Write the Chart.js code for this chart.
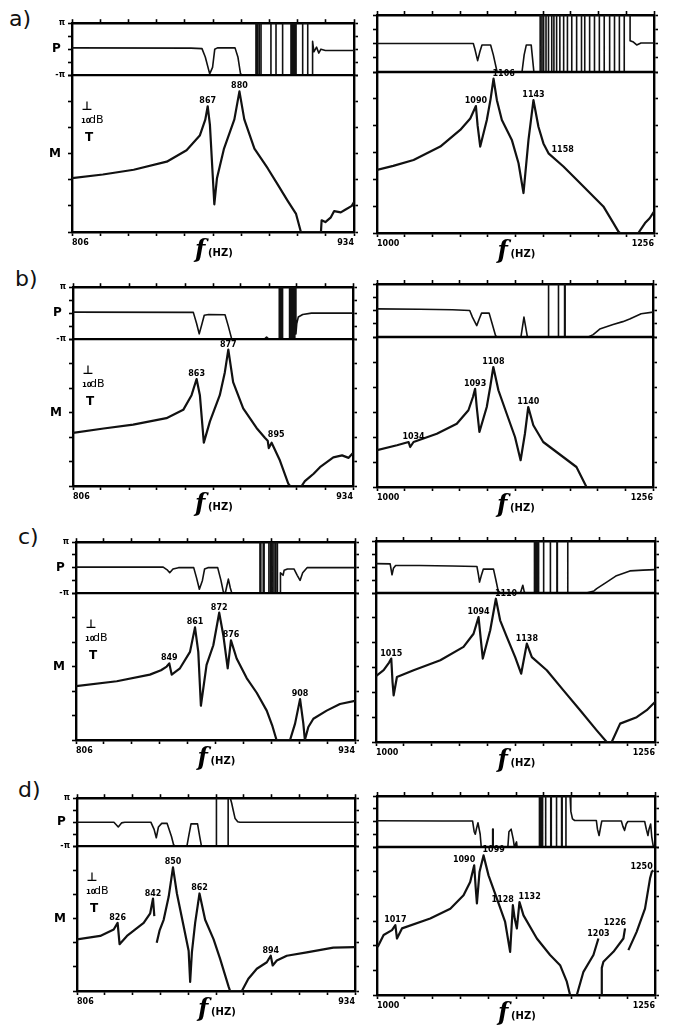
<!DOCTYPE html>
<html>
<head>
<meta charset="utf-8">
<script src="https://cdn.jsdelivr.net/npm/chart.js@4.4.1/dist/chart.umd.min.js"></script>
<style>
  body { margin: 0; background: #fff; }
  #page { position: relative; width: 674px; height: 1027px; overflow: hidden; }
  #page canvas { position: absolute; }
  .tag { position: absolute; font: 22px/1 "DejaVu Sans", sans-serif; color: #111; }
</style>
</head>
<body>
<div id="page">
  <div class="tag" style="left:9px;top:8px">a)</div>
  <div class="tag" style="left:15px;top:268px">b)</div>
  <div class="tag" style="left:18px;top:526px">c)</div>
  <div class="tag" style="left:18px;top:779px">d)</div>
</div>
<script>
var leftRange = [806, 934];
var rightRange = [1000, 1256];

// M: magnitude in 10 dB divisions (0 = bottom edge, 6 = top), P: phase in units of pi
var aLeftM = [[806,2.06],[820,2.2],[834,2.38],[849,2.69],[858,3.13],[864,3.69],[866.5,4.3],[867.6,4.81],[868.6,4.1],[870.6,1.06],[871.8,2.06],[875,3.19],[879.7,4.31],[882,5.38],[884.2,4.31],[888.8,3.19],[894.8,2.44],[899.4,1.81],[903.9,1.19],[907.7,0.69],[909.9,0],[919,0],[919.3,0.45],[921,0.38],[923.5,0.56],[925,0.8],[928,0.75],[930,0.85],[933,1.0],[934,1.15]];
var aLeftP = [[806,0.05],[860,0.04],[865,0.02],[866.5,-0.3],[868.5,-0.95],[869.8,-0.7],[870.8,0],[872,0.05],[880,0.05],[881.3,-0.3],[882.5,-0.95],[883.5,-1],[889.5,-1],[889.5,1],[890.2,1],[890.2,-1],[891,-1],[891,1],[891.8,1],[891.8,-1],[896.3,-1],[896.3,1],[898.6,1],[898.6,-1],[901.6,-1],[901.6,1],[905.4,1],[905.4,-1],[906,-1],[906,1],[906.6,1],[906.6,-1],[907.2,-1],[907.2,1],[907.7,1],[907.7,-1],[910.7,-1],[910.7,1],[913,1],[913,-1],[915.2,-1],[915.2,0.3],[915.8,-0.1],[917,0.08],[918,-0.15],[919,0],[921,-0.05],[934,-0.05]];
var aLeftPeaks = [867, 880];
var aLeftSide = [];
var aLeftAlign = {};

var aRightM = [[1000,2.35],[1015,2.5],[1033.8,2.72],[1058.5,3.22],[1076.9,3.84],[1086.2,4.27],[1091.4,4.73],[1093,4.0],[1095.4,3.22],[1101.5,4.21],[1105,5],[1107.7,5.75],[1110.8,4.95],[1115.4,4.21],[1124.6,3.47],[1130.8,2.6],[1135.4,1.49],[1140,3.47],[1144.6,4.95],[1149.2,3.96],[1153.8,3.34],[1158.5,2.97],[1172.3,2.48],[1190.8,1.73],[1209.2,0.99],[1218.5,0.37],[1223,0.06],[1224.6,0],[1241.5,0],[1247.7,0.37],[1252,0.55],[1256,0.8]];
var aRightP = [[1000,0],[1089,0],[1090.5,-0.2],[1093,-0.6],[1095,-0.3],[1097,-0.05],[1105,-0.05],[1107.5,-0.4],[1111,-1],[1134,-1],[1136,-0.4],[1138,-0.05],[1142.5,-0.05],[1145,-1],[1150.8,-1],[1150.8,1],[1152.4,1],[1152.4,-1],[1154,-1],[1154,1],[1156.2,1],[1156.2,-1],[1158.5,-1],[1158.5,1],[1161.5,1],[1161.5,-1],[1163.5,-1],[1163.5,1],[1166,1],[1166,-1],[1169,-1],[1169,1],[1172.5,1],[1172.5,-1],[1176,-1],[1176,1],[1180,1],[1180,-1],[1184.5,-1],[1184.5,1],[1189,1],[1189,-1],[1192,-1],[1192,1],[1196.5,1],[1196.5,-1],[1201,-1],[1201,1],[1205.5,1],[1205.5,-1],[1210,-1],[1210,1],[1215,1],[1215,-1],[1219.5,-1],[1219.5,1],[1224,1],[1224,-1],[1228.5,-1],[1228.5,1],[1233.9,1],[1233.9,0.1],[1237,0.05],[1240,-0.05],[1244,0.02],[1256,0.02]];
var aRightPeaks = [1090, 1106, 1143];
var aRightSide = [1158];
var aRightAlign = { 1106: 'left' };

var bLeftM = [[806,2.17],[820,2.35],[833.5,2.51],[848.7,2.77],[856.4,3.11],[860.2,3.71],[862.5,4.37],[864,3.71],[865.8,1.77],[868.6,2.64],[873.1,3.71],[875.4,4.64],[877,5.57],[879.2,4.24],[883.8,3.17],[889.9,2.37],[893.7,1.97],[895,1.85],[895.5,1.55],[896.8,1.77],[900.6,1.04],[904.4,0.1],[905.2,0],[910.5,0],[912,0.2],[914.3,0.37],[916,0.5],[918.9,0.77],[925,1.17],[929,1.25],[932,1.15],[934,1.35]];
var bLeftP = [[806,0.04],[861,0.03],[862.5,-0.4],[863.7,-0.8],[865,-0.4],[866,-0.08],[868,-0.05],[875.5,-0.06],[877,-0.5],[878.5,-0.98],[879.5,-1],[893.5,-1],[894.5,-0.92],[895.5,-1],[900.3,-1],[900.3,1],[900.8,1],[900.8,-1],[901.3,-1],[901.3,1],[901.8,1],[901.8,-1],[905,-1],[905,1],[905.6,1],[905.6,-1],[906.2,-1],[906.2,1],[906.8,1],[906.8,-1],[907.4,-1],[907.4,1],[907.9,1],[907.9,-0.8],[908.3,-0.4],[909,-0.15],[911,-0.05],[915,0],[934,0]];
var bLeftPeaks = [863, 877];
var bLeftSide = [895];
var bLeftAlign = {};

var bRightM = [[1000,1.47],[1018.5,1.67],[1029.3,1.8],[1030.8,1.6],[1033.9,1.8],[1055.5,2.13],[1074,2.53],[1084.8,3.07],[1089,3.6],[1091,3.93],[1092.5,3.2],[1095,2.2],[1101.8,3.2],[1105,4],[1107.9,4.8],[1112.6,3.87],[1120.3,2.93],[1128,2],[1133.2,1.07],[1137.2,2.13],[1140.3,3.2],[1145,2.47],[1154.2,1.8],[1172.7,1.2],[1185,0.8],[1194.3,0],[1256,0]];
var bRightP = [[1000,0.06],[1040,0.05],[1070,0.03],[1086,0],[1088.5,-0.25],[1092.5,-0.57],[1095,-0.3],[1097,-0.1],[1104,-0.1],[1106.5,-0.45],[1110,-0.95],[1111.5,-1],[1133.5,-1],[1135,-0.6],[1136.3,-0.25],[1137.8,-0.6],[1139.5,-1],[1158.8,-1],[1158.8,1],[1159.3,1],[1159.3,-1],[1168,-1],[1168,1],[1168.5,1],[1168.5,-1],[1174,-1],[1174,1],[1174.5,1],[1174.5,-1],[1196,-1],[1200.5,-0.91],[1206.6,-0.7],[1219,-0.53],[1228,-0.42],[1234.4,-0.32],[1245,-0.12],[1256,-0.06]];
var bRightPeaks = [1034, 1093, 1108, 1140];
var bRightSide = [];
var bRightAlign = {};

var cLeftM = [[806,2.2],[824.7,2.4],[839.9,2.67],[845,2.85],[847.6,3],[848.8,3.13],[849.9,2.67],[853.7,2.93],[858.3,3.6],[860.6,4.6],[862.1,3.6],[863.3,1.4],[865.9,3.07],[869,3.87],[871.7,5.2],[873.6,4.27],[875.6,2.93],[877.1,4.07],[879.7,3.33],[884.3,2.53],[888.9,1.93],[893.5,1.2],[896,0.6],[898,0],[904.2,0],[906.5,0.67],[908.8,1.67],[910.3,0.67],[911,0],[912.6,0.53],[914.9,0.87],[921,1.2],[927.1,1.47],[934,1.6]];
var cLeftP = [[806,0.02],[846,0.02],[848,-0.1],[849,-0.2],[850.5,-0.05],[853,0],[860,0],[861.3,-0.4],[862.6,-0.85],[864,-0.5],[865,-0.05],[866.5,0],[871,0],[872.5,-0.5],[873.6,-0.95],[874.5,-1],[875,-0.8],[875.9,-0.45],[876.8,-0.8],[877.5,-1],[890.4,-1],[890.4,1],[890.8,1],[890.8,-1],[891.9,-1],[891.9,1],[892.3,1],[892.3,-1],[894.5,-1],[894.5,1],[895.3,1],[895.3,-1],[896,-1],[896,1],[896.8,1],[896.8,-1],[897.6,-1],[897.6,1],[898.4,1],[898.4,-1],[899.6,-1],[899.8,-0.2],[901,-0.3],[901.5,-0.1],[903,-0.05],[906,-0.05],[907.5,-0.3],[908.8,-0.5],[910,-0.2],[912,0],[934,0]];
var cLeftPeaks = [849, 861, 872, 876, 908];
var cLeftSide = [];
var cLeftAlign = {};

var cRightM = [[1000,2.65],[1007,2.89],[1012,3.2],[1014,3.36],[1015.2,2.4],[1016.2,1.88],[1019.2,2.62],[1034.5,2.89],[1059,3.29],[1080.3,3.83],[1089.5,4.36],[1094.1,5.03],[1096,4.2],[1098,3.36],[1104.8,4.5],[1110,5.77],[1113.9,4.9],[1120,4.23],[1127.7,3.42],[1133.2,2.75],[1138.4,3.96],[1143,3.42],[1156.7,2.89],[1172,2.08],[1187.3,1.28],[1202.5,0.47],[1211.7,0],[1216.3,0],[1224,0.74],[1239.2,1.0],[1248.4,1.28],[1256,1.61]];
var cRightP = [[1000,0.13],[1013,0.12],[1014.7,-0.3],[1016,-0.05],[1018,0.06],[1040,0.06],[1070,0.04],[1092.6,0.02],[1094,-0.3],[1095,-0.58],[1096.5,-0.35],[1098.5,-0.08],[1107.8,-0.08],[1110,-0.5],[1112,-0.9],[1114,-1],[1132.5,-1],[1134.7,-0.7],[1136,-0.95],[1137,-1],[1145,-1],[1145,1],[1145.6,1],[1145.6,-1],[1146.5,-1],[1146.5,1],[1147.3,1],[1147.3,-1],[1148.5,-1],[1148.5,1],[1149.2,1],[1149.2,-1],[1153.5,-1],[1153.5,1],[1154,1],[1154,-1],[1159.7,-1],[1159.7,1],[1160.2,1],[1160.2,-1],[1166,-1],[1166,1],[1166.4,1],[1166.4,-1],[1175.7,-1],[1175.7,1],[1176.1,1],[1176.1,-1],[1193,-1],[1200,-0.92],[1202.5,-0.83],[1211.7,-0.58],[1220,-0.35],[1233,-0.15],[1245,-0.12],[1256,-0.1]];
var cRightPeaks = [1015, 1094, 1110, 1138];
var cRightSide = [];
var cRightAlign = { 1110: 'left' };

var dLeftM = [[806,2.14],[816.7,2.28],[822.9,2.55],[824.7,2.82],[825.6,1.94],[829,2.28],[836.7,2.82],[839.7,3.22],[841,3.83],[841.6,3.1],[842,null],[842.7,2.0],[844,2.5],[845.9,2.95],[848.2,3.9],[850.2,5.12],[852,4.04],[855.1,2.68],[857.4,1.67],[858.1,0.38],[858.9,1.6],[860.4,2.82],[862.4,4.04],[865,2.95],[868.9,2.14],[871.9,1.33],[875.8,0.18],[876.5,0],[881.9,0],[884.9,0.51],[888.8,0.92],[893.4,1.19],[895.2,1.46],[896.1,1.06],[898,1.26],[902.6,1.46],[911.8,1.6],[924,1.8],[934,1.82]];
var dLeftP = [[806,0],[823,0],[825,-0.2],[826.5,-0.03],[828,0],[840,0],[841.5,-0.3],[842.5,-0.65],[843.5,-0.2],[845,-0.05],[847.5,-0.05],[849.5,-0.6],[850.5,-0.95],[851.5,-1],[856.6,-1],[857.6,-0.5],[858.5,-0.07],[861.5,-0.07],[862.5,-0.6],[863.3,-1],[870,-1],[870,1],[870.3,1],[870.3,-1],[875.6,-1],[875.6,1],[876.6,1],[877.2,0.8],[877.8,0.55],[878.8,0.15],[880,0.02],[881,0],[934,0]];
var dLeftPeaks = [826, 842, 850, 862, 894];
var dLeftSide = [];
var dLeftAlign = {};

var dRightM = [[1000.6,1.95],[1006.1,2.43],[1013.8,2.63],[1016.9,2.83],[1018.4,2.29],[1023,2.7],[1049,3.1],[1067.5,3.5],[1079.7,4.04],[1085.8,4.58],[1089.5,5.26],[1090.8,4.4],[1092,3.71],[1094.4,4.99],[1098.1,5.66],[1102.7,4.85],[1110.4,3.91],[1118,2.96],[1122.6,1.75],[1125.1,3.64],[1126.8,3.1],[1128.8,2.7],[1131.2,3.77],[1134.9,3.23],[1147.2,2.29],[1159.4,1.62],[1168.6,1.21],[1174.8,0.54],[1177.8,0],[1184,0],[1190.1,0.94],[1199.3,1.62],[1203.9,2.29],[1205,null],[1207,0],[1207,1.1],[1208.5,1.35],[1217.7,1.75],[1226.9,2.29],[1228.4,2.7],[1229,null],[1231.5,1.82],[1239.1,2.56],[1246.8,3.5],[1251.4,4.72],[1253,4.99],[1254.5,5.05]];
var dRightP = [[1000,0.03],[1060,0.02],[1088,0.02],[1089.5,-0.4],[1090.5,-0.5],[1091.5,-0.3],[1093,-0.05],[1095,-0.5],[1096,-1],[1106.5,-1],[1106.5,-0.3],[1107,-0.3],[1107,-1],[1120.5,-1],[1121.5,-0.4],[1123.5,-0.3],[1125.5,-0.7],[1126.5,-1],[1128.5,-0.8],[1129,-1],[1149.6,-1],[1149.6,1],[1150.5,1],[1150.5,-1],[1151.5,-1],[1151.5,1],[1152.5,1],[1152.5,-1],[1155,-1],[1155,1],[1155.5,1],[1155.5,-1],[1160,-1],[1160,1],[1160.5,1],[1160.5,-1],[1165,-1],[1165,1],[1165.5,1],[1165.5,-1],[1170,-1],[1170,1],[1170.5,1],[1170.5,-1],[1174,-1],[1174,1],[1177.8,1],[1178.5,0.4],[1180,0.1],[1182,0.04],[1202,0.04],[1203,-0.3],[1204.5,-0.55],[1206,-0.2],[1207,0.02],[1225,0.02],[1226.5,-0.2],[1228,-0.35],[1229.5,-0.1],[1231,0],[1246.5,0],[1248,-0.3],[1249.5,-0.55],[1250.5,-0.3],[1252,-0.1],[1253,-0.6],[1254.5,-1],[1256,-1]];
var dRightPeaks = [1017, 1090, 1099, 1128, 1132, 1203, 1226, 1250];
var dRightSide = [];
var dRightAlign = { 1090: 'right', 1099: 'left', 1128: 'right', 1132: 'left', 1226: 'right', 1250: 'right' };

// page boxes: [left, right, top, P/M divider, bottom] of each plot frame
var panels = [
  { m: aLeftM, p: aLeftP, peaks: aLeftPeaks, side: aLeftSide, align: aLeftAlign, range: leftRange, box: [72, 354, 19, 72, 232], labels: true },
  { m: aRightM, p: aRightP, peaks: aRightPeaks, side: aRightSide, align: aRightAlign, range: rightRange, box: [377, 654, 15, 72, 233], labels: false },
  { m: bLeftM, p: bLeftP, peaks: bLeftPeaks, side: bLeftSide, align: bLeftAlign, range: leftRange, box: [73, 353, 283, 336, 486], labels: true },
  { m: bRightM, p: bRightP, peaks: bRightPeaks, side: bRightSide, align: bRightAlign, range: rightRange, box: [377, 653, 284, 337, 487], labels: false },
  { m: cLeftM, p: cLeftP, peaks: cLeftPeaks, side: cLeftSide, align: cLeftAlign, range: leftRange, box: [76, 355, 538, 590, 740], labels: true },
  { m: cRightM, p: cRightP, peaks: cRightPeaks, side: cRightSide, align: cRightAlign, range: rightRange, box: [376, 655, 541, 593, 742], labels: false },
  { m: dLeftM, p: dLeftP, peaks: dLeftPeaks, side: dLeftSide, align: dLeftAlign, range: leftRange, box: [77, 355, 794, 843, 991], labels: true },
  { m: dRightM, p: dRightP, peaks: dRightPeaks, side: dRightSide, align: dRightAlign, range: rightRange, box: [377, 655, 796, 847, 995], labels: false }
];

Chart.defaults.font.family = '"DejaVu Sans", sans-serif';
Chart.defaults.color = '#000';

var TOP = 6, BOT = 36, RIGHT = 6;
var grid = { drawOnChartArea: false, tickLength: 4, color: '#000', tickWidth: 1.6 };
var border = { color: '#000', width: 2.4 };

function toXY(list) {
  return list.map(function (d) { return { x: d[0], y: d[1] }; });
}

function peakOf(list, f, win) {
  var best = null;
  list.forEach(function (d) {
    if (d[1] !== null && Math.abs(d[0] - f) <= win && (!best || d[1] > best[1])) best = d;
  });
  return best;
}

function tenTicks(range) {
  return function (s) {
    var t = [];
    for (var i = 0; i <= 10; i++) t.push({ value: range[0] + i * (range[1] - range[0]) / 10 });
    s.ticks = t;
  };
}
function phaseTicks(s) {
  s.ticks = [-1, -0.5, 0, 0.5, 1].map(function (v) { return { value: v }; });
}
function setW(w) { return function (s) { s.width = w; }; }
function setH(h) { return function (s) { s.height = h; }; }

function textPlugin(pn, win) {
  return {
    id: 'panelText',
    afterDraw: function (chart) {
      var ctx = chart.ctx, a = chart.chartArea, sx = chart.scales.x, sy = chart.scales.yM;
      ctx.save();
      // P / M divider line
      ctx.strokeStyle = '#000';
      ctx.lineWidth = 2.4;
      ctx.beginPath();
      ctx.moveTo(a.left - 1, sy.top);
      ctx.lineTo(a.right + 1, sy.top);
      ctx.stroke();

      ctx.fillStyle = '#000';
      ctx.font = 'bold 8px "DejaVu Sans"';
      pn.peaks.forEach(function (f) {
        var p = peakOf(pn.m, f, win);
        if (!p) return;
        var txt = String(f), w = ctx.measureText(txt).width;
        var px = sx.getPixelForValue(p[0]), py = sy.getPixelForValue(p[1]) - 3;
        var al = pn.align[f];
        var lx = al === 'left' ? px - 1 : al === 'right' ? px - w + 1 : px - w / 2;
        lx = Math.max(a.left + 1, Math.min(a.right - w - 1, lx));
        ctx.textAlign = 'left';
        ctx.fillText(txt, lx, py);
      });
      ctx.textAlign = 'left';
      pn.side.forEach(function (f) {
        var p = peakOf(pn.m, f, win);
        if (p) ctx.fillText(String(f), sx.getPixelForValue(p[0]) + 3, sy.getPixelForValue(p[1]) - 1);
      });

      if (pn.labels) {
        var ty = sy.top;
        ctx.textAlign = 'center';
        ctx.font = 'bold 12px "DejaVu Sans"';
        ctx.fillText('⊥', a.left + 15, ty + 35);
        ctx.fillText('T', a.left + 17, ty + 66);
        ctx.textAlign = 'left';
        ctx.font = 'bold 7px "DejaVu Sans"';
        ctx.fillText('10', a.left + 9, ty + 48);
        ctx.font = '11px "DejaVu Sans"';
        ctx.fillText('dB', a.left + 17, ty + 48);
      }

      var cx = (a.left + a.right) / 2, by = a.bottom + 25;
      ctx.textAlign = 'left';
      ctx.font = 'italic bold 24px "DejaVu Serif"';
      ctx.fillText('f', cx - 18, by);
      ctx.font = 'bold 10px "DejaVu Sans"';
      ctx.fillText('(HZ)', cx - 5, by - 1);
      ctx.restore();
    }
  };
}

panels.forEach(function (pn) {
  var b = pn.box, r = pn.range, left = pn.labels ? 30 : 6;
  var cv = document.createElement('canvas');
  cv.width = b[1] - b[0] + left + RIGHT;
  cv.height = b[4] - b[2] + TOP + BOT;
  cv.style.left = (b[0] - left) + 'px';
  cv.style.top = (b[2] - TOP) + 'px';
  document.getElementById('page').appendChild(cv);
  var pH = b[3] - b[2], mH = b[4] - b[3];
  var win = r === leftRange ? 2 : 3;

  new Chart(cv.getContext('2d'), {
    type: 'line',
    data: {
      datasets: [
        { data: toXY(pn.m), yAxisID: 'yM', borderColor: '#111', borderWidth: 2.2, borderJoinStyle: 'round', pointRadius: 0, tension: 0, spanGaps: false },
        { data: toXY(pn.p), yAxisID: 'yP', borderColor: '#111', borderWidth: 1.6, borderJoinStyle: 'round', pointRadius: 0, tension: 0 }
      ]
    },
    options: {
      responsive: false,
      animation: false,
      events: [],
      layout: { padding: 0 },
      plugins: { legend: { display: false }, tooltip: { enabled: false } },
      scales: {
        x: {
          type: 'linear', position: 'bottom', min: r[0], max: r[1],
          afterBuildTicks: tenTicks(r), afterFit: setH(BOT), grid: grid, border: border,
          ticks: {
            autoSkip: false, maxRotation: 0, align: 'inner', padding: 2,
            font: { size: 8, weight: 'bold' },
            callback: function (v, i, t) { return (i === 0 || i === t.length - 1) ? String(v) : ''; }
          }
        },
        x2: {
          type: 'linear', position: 'top', min: r[0], max: r[1],
          afterBuildTicks: tenTicks(r), afterFit: setH(TOP), grid: grid, border: border,
          ticks: { display: false }
        },
        yM: {
          type: 'linear', position: 'left', stack: 's', stackWeight: mH, min: 0, max: 6,
          afterFit: setW(left), grid: grid, border: border,
          ticks: {
            display: pn.labels, stepSize: 1, autoSkip: false, padding: 3,
            font: { size: 12, weight: 'bold' },
            callback: function (v) { return v === 3 ? 'M ' : ''; }
          }
        },
        yP: {
          type: 'linear', position: 'left', stack: 's', stackWeight: pH, min: -1, max: 1,
          afterBuildTicks: phaseTicks, afterFit: setW(left), grid: grid, border: border,
          ticks: {
            display: pn.labels, autoSkip: false, padding: 3,
            font: function (c) {
              return c.tick && c.tick.value === 0 ? { size: 12, weight: 'bold' } : { size: 8, weight: 'bold' };
            },
            callback: function (v) { return v === 1 ? 'π' : v === -1 ? '-π' : v === 0 ? 'P ' : ''; }
          }
        },
        yP2: {
          type: 'linear', position: 'right', stack: 's', stackWeight: pH, min: -1, max: 1,
          afterBuildTicks: phaseTicks, afterFit: setW(RIGHT), grid: grid, border: border,
          ticks: { display: false }
        },
        yM2: {
          type: 'linear', position: 'right', stack: 's', stackWeight: mH, min: 0, max: 6,
          afterFit: setW(RIGHT), grid: grid, border: border,
          ticks: { display: false, stepSize: 1 }
        }
      }
    },
    plugins: [textPlugin(pn, win)]
  });
});
</script>
</body>
</html>
